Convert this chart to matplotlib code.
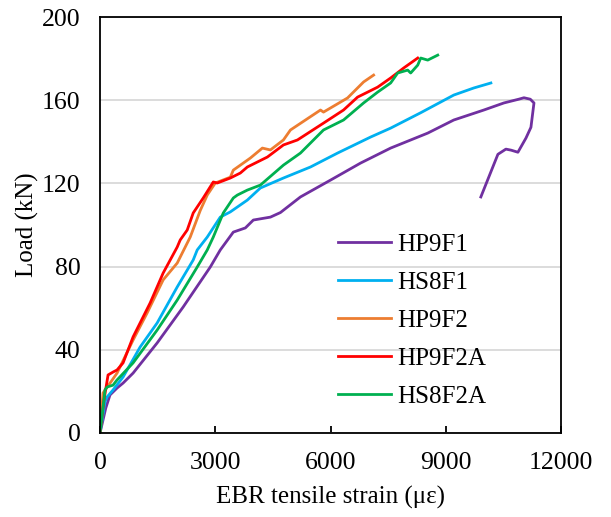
import matplotlib.pyplot as plt

plt.rcParams['font.family'] = ['Liberation Serif', 'DejaVu Serif']

# strain (με) and load (kN)
hp9f1_x = [0, 150, 260, 443, 600, 861, 1487, 2165, 2870, 3130, 3470, 3783, 3991, 4435,
           4696, 5217, 6000, 6783, 7565, 8530, 9209, 9991, 10513, 10900, 11035,
           11200, 11296, 11217, 11087, 10878, 10700, 10565, 10357, 9913]
hp9f1_y = [0, 12, 18.3, 21.6, 24, 28.8, 43.3, 60.6, 79.8, 88, 96.6, 98.6, 102.4, 103.8,
           106, 113.5, 121.6, 129.8, 137, 144.2, 150.5, 155.3, 158.7, 160.5, 161.2,
           160.5, 158.7, 147, 141.8, 135, 136, 136.5, 134, 113.5]

hs8f1_x = [0, 130, 183, 339, 600, 1043, 1487, 2009, 2426, 2530, 2791, 3130, 3391,
           3835, 4174, 4774, 5478, 6183, 7043, 7565, 8348, 9209, 9730, 10174]
hs8f1_y = [0, 15, 17.3, 20.7, 26.9, 41.3, 52.9, 70.2, 83.2, 88, 94.2, 103.8, 106.3,
           112, 117.8, 122.6, 127.9, 134.6, 142.3, 146.6, 154, 162.5, 165.9, 168.3]

hp9f2_x = [0, 78, 261, 443, 861, 1226, 1643, 2009, 2348, 2609, 2791, 3000, 3391,
           3470, 3913, 4226, 4435, 4774, 4957, 5739, 5817, 6443, 6861, 7122]
hp9f2_y = [0, 19.2, 24, 28.8, 44.7, 57.7, 73.6, 81.7, 94.2, 107, 114.4, 120.2, 123,
           126.4, 132.2, 137, 136.1, 140.9, 145.7, 155.3, 154.3, 161.1, 168.8, 172.1]

hp9f2a_x = [0, 104, 209, 339, 443, 600, 861, 1304, 1643, 2009, 2087, 2270, 2426,
            2687, 2948, 3052, 3391, 3652, 3835, 4357, 4774, 5139, 5817, 6339, 6704,
            7226, 7565, 7904, 8270]
hp9f2a_y = [0, 15.9, 27.9, 29.3, 30.3, 33.7, 46.2, 62.5, 76.9, 89.4, 92.8, 97.6, 105.8,
            113, 120.7, 120.2, 122.6, 125, 127.9, 132.7, 138.5, 140.9, 149, 155.3, 161.5,
            166.3, 170.7, 175.5, 180.3]

hs8f2a_x = [0, 130, 183, 339, 443, 861, 1487, 2009, 2530, 2791, 2948, 3209, 3470,
            3574, 3835, 4174, 4774, 5217, 5817, 6339, 6861, 7226, 7565, 7748, 8009,
            8087, 8270, 8348, 8530, 8791]
hs8f2a_y = [0, 20.7, 22.1, 23, 25.5, 33.7, 49.5, 63.9, 79.8, 88, 94.2, 105.8, 113,
            114.4, 116.8, 119.2, 128.8, 134.6, 145.7, 150.5, 158.7, 163.9, 168.3, 173.1,
            174.5, 173.1, 176.9, 180.3, 179.3, 181.7]

series = [('HP9F1', hp9f1_x, hp9f1_y, '#7030A0'),
          ('HS8F1', hs8f1_x, hs8f1_y, '#00B0F0'),
          ('HP9F2', hp9f2_x, hp9f2_y, '#ED7D31'),
          ('HP9F2A', hp9f2a_x, hp9f2a_y, '#FF0000'),
          ('HS8F2A', hs8f2a_x, hs8f2a_y, '#00B050')]

fig = plt.figure(figsize=(6.11, 5.17), dpi=100)
ax = fig.add_axes([0.1637, 0.1625, 0.7545, 0.8045])

for name, x, y, c in series:
    ax.plot(x, y, color=c, lw=2.0, label=name)

ax.set_xlim(0, 12000)
ax.set_ylim(0, 200)
ax.set_xticks([0, 3000, 6000, 9000, 12000])
ax.set_yticks([0, 40, 80, 120, 160, 200])
ax.yaxis.grid(True, color='#d9d9d9', lw=1.3)
ax.set_axisbelow(True)
ax.tick_params(axis='x', direction='in', length=5, width=1.3, labelsize=18.5, pad=14)
ax.tick_params(axis='y', length=0, labelsize=18.5, pad=14)
for s in ax.spines.values():
    s.set_linewidth(1.3)

ax.set_xlabel('EBR tensile strain (με)', fontsize=18, labelpad=8)
ax.set_ylabel('Load (kN)', fontsize=18, labelpad=2)

ax.legend(loc='center left', bbox_to_anchor=(0.49, 0.27), frameon=False, fontsize=18,
          handlelength=2.1, handletextpad=0.25, labelspacing=0.62, borderpad=0)

fig.savefig('out.png', dpi=100)
